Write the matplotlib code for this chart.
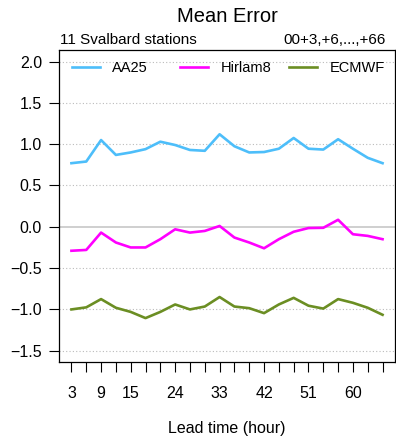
import matplotlib
matplotlib.use("Agg")
import matplotlib.pyplot as plt

plt.rcParams['font.family'] = ['Liberation Sans', 'DejaVu Sans']

lead_time = [3, 6, 9, 12, 15, 18, 21, 24, 27, 30, 33, 36, 39, 42, 45, 48, 51, 54, 57, 60, 63, 66]
aa25 = [0.77, 0.79, 1.05, 0.87, 0.90, 0.94, 1.03, 0.99, 0.93, 0.92, 1.12, 0.975, 0.90, 0.905,
        0.945, 1.075, 0.945, 0.935, 1.06, 0.945, 0.835, 0.77]
hirlam8 = [-0.29, -0.28, -0.07, -0.19, -0.25, -0.25, -0.15, -0.03, -0.07, -0.05, 0.01, -0.13,
           -0.19, -0.26, -0.15, -0.06, -0.015, -0.012, 0.085, -0.09, -0.11, -0.15]
ecmwf = [-1.00, -0.975, -0.875, -0.98, -1.03, -1.105, -1.03, -0.94, -1.0, -0.965, -0.85, -0.965,
         -0.985, -1.045, -0.94, -0.86, -0.955, -0.99, -0.875, -0.92, -0.98, -1.065]
series_names = ["AA25", "Hirlam8", "ECMWF"]
series_colors = ["#4DBEFA", "#FF00FF", "#6B8E23"]
x_labels_shown = [3, 9, 15, 24, 33, 42, 51, 60]
y_ticks = [-1.5, -1.0, -0.5, 0.0, 0.5, 1.0, 1.5, 2.0]

fig = plt.figure(figsize=(3.96, 4.44), dpi=100)
ax = fig.add_axes([59/396, 1 - 362.3/444, (395 - 59)/396, (362.3 - 50)/444])

for yv in y_ticks:
    if yv == 0.0:
        ax.axhline(yv, color="#CCCCCC", lw=1.3, ls="-", zorder=1)
    else:
        ax.axhline(yv, color="#BBBBBB", lw=0.8, ls=(0, (1, 2)), zorder=1)

lines = []
for vals, name, col in zip([aa25, hirlam8, ecmwf], series_names, series_colors):
    ln, = ax.plot(lead_time, vals, color=col, lw=1.9, label=name, zorder=3)
    lines.append(ln)

rng = lead_time[-1] - lead_time[0]
ax.set_xlim(lead_time[0] - 0.04 * rng, lead_time[-1] + 0.04 * rng)
ax.set_ylim(-1.5 - 0.14, 2.0 + 0.14)

ax.set_xticks(lead_time)
ax.set_xticklabels([str(v) if v in x_labels_shown else "" for v in lead_time])
ax.set_yticks(y_ticks)
ax.set_yticklabels([("\u2212" if v < 0 else "") + f"{abs(v):.1f}" for v in y_ticks])
ax.tick_params(axis='x', direction='out', length=7.2, width=0.8, pad=10, labelsize=11.5)
ax.tick_params(axis='y', direction='out', length=7.2, width=0.8, pad=5, labelsize=11.5)
for sp in ax.spines.values():
    sp.set_linewidth(0.9)

ax.set_xlabel("Lead time (hour)", fontsize=11.5, labelpad=14)

# legend entries in equal-width columns (R style)
leg_x = [(72 - 59) / 336, (180 - 59) / 336, (289 - 59) / 336]
leg_y = (362.3 - 68) / 312.3
for i, (ln, lx) in enumerate(zip(lines, leg_x)):
    lg = ax.legend([ln], [ln.get_label()], loc='center left', bbox_to_anchor=(lx, leg_y),
                   frameon=False, fontsize=10.5, handlelength=1.92, handletextpad=0.85,
                   borderpad=0, borderaxespad=0)
    if i < len(lines) - 1:
        ax.add_artist(lg)

fig.text(227 / 396, 1 - 17 / 444, "Mean Error", ha='center', va='center', fontsize=14.5)
fig.text(60 / 396, 1 - 40 / 444, "11 Svalbard stations", ha='left', va='center', fontsize=11)
fig.text(386 / 396, 1 - 40 / 444, "00+3,+6,...,+66", ha='right', va='center', fontsize=11)

fig.savefig("out.png", dpi=100)
